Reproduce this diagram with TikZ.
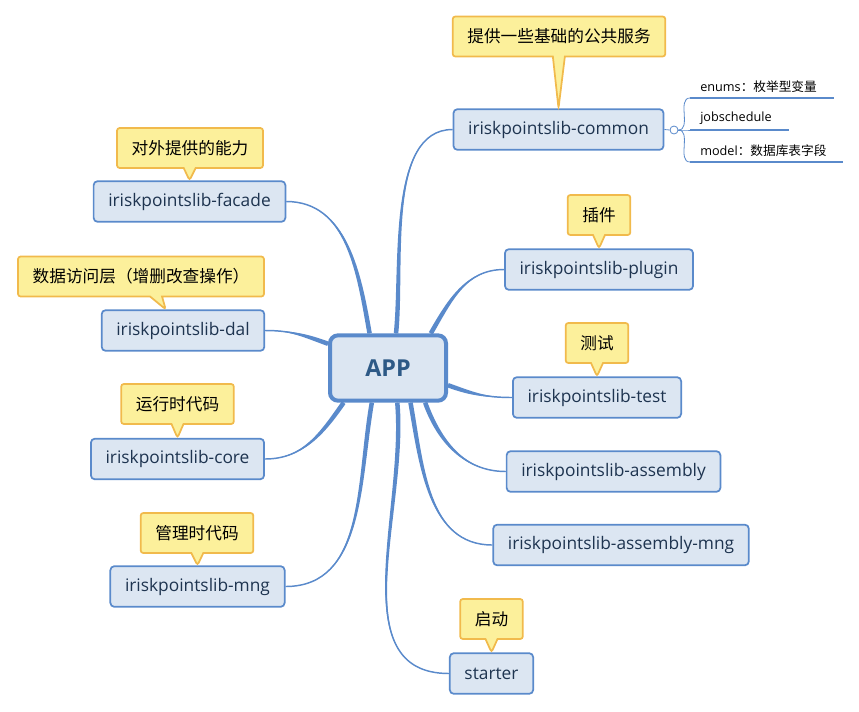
\documentclass[tikz,border=0pt]{standalone}
\usepackage{fontspec}
\setmainfont{Open Sans}
\newfontfamily\cjk{Noto Sans CJK SC}
\usetikzlibrary{shapes.callouts, backgrounds}
\definecolor{boxfill}{HTML}{DCE6F2}
\definecolor{boxline}{HTML}{5A8ACB}
\definecolor{notefill}{HTML}{FCF09B}
\definecolor{noteline}{HTML}{F1BA4C}
\definecolor{libtext}{HTML}{1E3450}
\definecolor{apptext}{HTML}{2D5986}
% tapered branch: anchor of app, out angle, in angle, target
\newcommand{\branch}[5][]{%
	\fill[boxline] ([shift = {(#3+90:1.7pt)}]app.#2) to[out = #3, in = #4, #1] (#5)
		to[in = #3, out = #4, #1] ([shift = {(#3-90:1.7pt)}]app.#2) -- cycle;
	\draw[branchStyle] (app.#2) to[out = #3, in = #4, #1] (#5);
}

\begin{document}
\begin{tikzpicture}[x = 0.75pt, y = -0.75pt]
	\tikzstyle{appStyle} = [draw = boxline, fill = boxfill, line width = 3pt, rounded corners = 6pt, minimum width = 87pt, minimum height = 49pt, text = apptext, font = \bfseries\fontsize{17.5}{20}\selectfont]
	\tikzstyle{libStyle} = [draw = boxline, fill = boxfill, line width = 1.3pt, rounded corners = 3pt, minimum height = 30.5pt, inner xsep = 11pt, text = libtext, font = \fontsize{13}{16}\selectfont]
	\tikzstyle{noteStyle} = [rectangle callout, draw = noteline, fill = notefill, line width = 1.3pt, rounded corners = 2pt, minimum height = 30pt, inner xsep = 11pt, callout pointer width = 9pt, font = \cjk\fontsize{12.5}{15}\selectfont]
	\tikzstyle{branchStyle} = [draw = boxline, line width = 1.1pt]
	\tikzstyle{itemStyle} = [anchor = south west, inner xsep = 7.5pt, inner ysep = 4pt, font = \fontsize{9.5}{11}\selectfont]
	\tikzstyle{foldStyle} = [circle, draw = boxline, fill = white, line width = 0.6pt, minimum size = 6pt, inner sep = 0pt]
	\useasboundingbox (0, 0) rectangle (859, 711);
	% central node and the libraries
	\node[appStyle] (app) at (388, 368) {APP};
	\node[libStyle] (common) at (558.5, 129.5) {iriskpointslib-common};
	\node[libStyle] (facade) at (189.5, 201.5) {iriskpointslib-facade};
	\node[libStyle] (dal) at (183, 330.5) {iriskpointslib-dal};
	\node[libStyle] (core) at (177.5, 459) {iriskpointslib-core};
	\node[libStyle] (mng) at (197.5, 586.5) {iriskpointslib-mng};
	\node[libStyle] (plugin) at (599, 269.5) {iriskpointslib-plugin};
	\node[libStyle] (test) at (597, 397.5) {iriskpointslib-test};
	\node[libStyle] (assembly) at (613.5, 471.5) {iriskpointslib-assembly};
	\node[libStyle] (asmmng) at (621, 545) {iriskpointslib-assembly-mng};
	\node[libStyle] (starter) at (491.5, 673.5) {starter};
	% notes
	\node[noteStyle, callout absolute pointer = {(common.north)}] (commonNote) at (559, 36.5) {提供一些基础的公共服务};
	\node[noteStyle, callout absolute pointer = {(facade.north)}] (facadeNote) at (190, 148) {对外提供的能力};
	\node[noteStyle, callout absolute pointer = {([xshift = -13pt]dal.north)}] (dalNote) at (141, 276.5) {数据访问层（增删改查操作）};
	\node[noteStyle, callout absolute pointer = {(core.north)}] (coreNote) at (177.5, 404) {运行时代码};
	\node[noteStyle, callout absolute pointer = {(mng.north)}] (mngNote) at (197, 533) {管理时代码};
	\node[noteStyle, callout absolute pointer = {(plugin.north)}] (pluginNote) at (599, 215) {插件};
	\node[noteStyle, callout absolute pointer = {(test.north)}] (testNote) at (597, 343) {测试};
	\node[noteStyle, callout absolute pointer = {(starter.north)}] (starterNote) at (491.5, 619) {启动};
	% branches
	\begin{pgfonlayer}{background}
		\branch[looseness = 0.8]{77}{84}{180}{common.west}
		\branch{118}{100}{0}{facade.east}
		\branch{158}{160}{0}{dal.east}
		\branch{-142}{-125}{0}{core.east}
		\branch{-115}{-100}{0}{mng.east}
		\branch{39}{60}{180}{plugin.west}
		\branch{-16}{-20}{180}{test.west}
		\branch{-43}{-70}{180}{assembly.west}
		\branch{-57}{-80}{180}{asmmng.west}
		\branch{-75}{-85}{180}{starter.west}
	\end{pgfonlayer}
	% sub items of common
	\node[foldStyle] (fold) at (674, 130) {};
	\draw[draw = boxline, line width = 0.6pt] (common.east) -- (fold.west);
	\node[itemStyle] (enums) at (690, 98) {enums{\cjk：枚举型变量}};
	\node[itemStyle] (jobs) at (690, 130) {jobschedule};
	\node[itemStyle] (model) at (690, 162) {model{\cjk：数据库表字段}};
	\foreach \item in {enums, jobs, model}{
		\draw[draw = boxline, line width = 1.5pt] (\item.south west) -- ([xshift = 5pt]\item.south east);
		\draw[draw = boxline, line width = 0.6pt] (fold.east) to[out = 0, in = 180] (\item.south west);
	}
\end{tikzpicture}
\end{document}
